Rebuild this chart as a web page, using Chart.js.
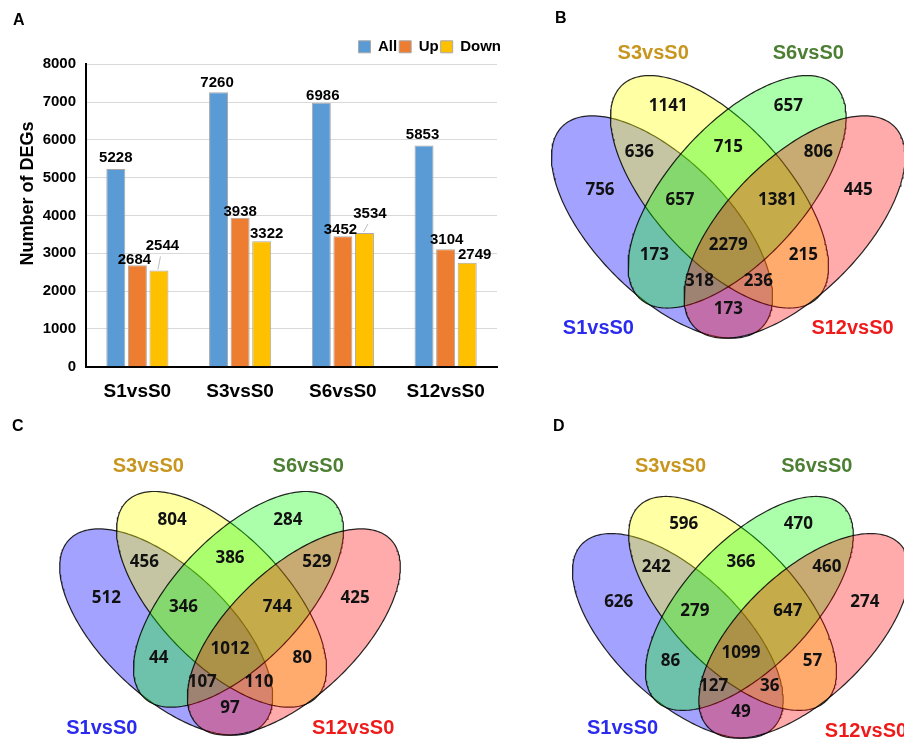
<!DOCTYPE html>
<html>
<head>
<meta charset="utf-8">
<script src="https://cdn.jsdelivr.net/npm/chart.js@4.4.0/dist/chart.umd.min.js"></script>
<style>
html,body{margin:0;padding:0;background:#fff;width:904px;height:740px;overflow:hidden;position:relative;}
.panel{position:absolute;}
.letter{position:absolute;font:bold 16px "Liberation Sans",Arial,sans-serif;line-height:16px;color:#000;}
canvas{display:block;}
</style>
</head>
<body>
<div class="panel" style="left:0;top:0;width:530px;height:410px"><canvas id="barChart" width="530" height="410"></canvas></div>
<div class="panel" style="left:540px;top:0;width:364px;height:410px"><canvas id="vennB" width="364" height="410"></canvas></div>
<div class="panel" style="left:0;top:410px;width:450px;height:330px"><canvas id="vennC" width="450" height="330"></canvas></div>
<div class="panel" style="left:450px;top:410px;width:454px;height:330px"><canvas id="vennD" width="454" height="330"></canvas></div>
<div class="letter" style="left:13px;top:12px">A</div>
<div class="letter" style="left:555px;top:10px">B</div>
<div class="letter" style="left:12px;top:418px">C</div>
<div class="letter" style="left:553px;top:418px">D</div>
<script>
// ---------------- DATA ----------------
// Panel A: bar chart
const categories = ['S1vsS0', 'S3vsS0', 'S6vsS0', 'S12vsS0'];
const seriesNames = ['All', 'Up', 'Down'];
const allDEGs  = [5228, 7260, 6986, 5853];
const upDEGs   = [2684, 3938, 3452, 3104];
const downDEGs = [2544, 3322, 3534, 2749];
const yTickMin = 0;
const yTickMax = 8000;
const yTickStep = 1000;
const yAxisTitle = 'Number of DEGs';

// Panels B, C, D: four-set Venn diagrams
const vennSets = ['S1vsS0', 'S3vsS0', 'S6vsS0', 'S12vsS0'];
const regionNames = ['S1', 'S3', 'S6', 'S12', 'S1&S3', 'S3&S6', 'S6&S12', 'S1&S6', 'S3&S12', 'S1&S12',
                     'S1&S3&S6', 'S3&S6&S12', 'S1&S6&S12', 'S1&S3&S12', 'S1&S3&S6&S12'];
const vennCountsB = [756, 1141, 657, 445, 636, 715, 806, 173, 215, 173, 657, 1381, 318, 236, 2279];
const vennCountsC = [512, 804, 284, 425, 456, 386, 529, 44, 80, 97, 346, 744, 107, 110, 1012];
const vennCountsD = [626, 596, 470, 274, 242, 366, 460, 86, 57, 49, 279, 647, 127, 36, 1099];

// ---------------- STYLE / LAYOUT ----------------
const FONT = '"Liberation Sans", Arial, sans-serif';
const NUM_FONT = '"Open Sans", "Noto Sans", sans-serif';
const barColors = ['#5b9bd5', '#ed7d31', '#ffc000'];
const barBorder = '#a9a9a9';
// label nudges in px [dx, dy] for each bar of each series
const labelShift = {
  All:  [[0, -1.6], [-1.5, -0.6], [1.5, 2], [-1.5, -1.6]],
  Up:   [[-3, 3.4], [0, 3.4], [-2.5, 2.4], [1, -0.6]],
  Down: [[3.5, -15.6], [5, 1.4], [5.5, -10.6], [7.5, 1.4]]
};
const leaderLines = { Down: [true, false, true, false] };
const legendShift = {dx: 6, dy: 0};

// Venn geometry in unit coordinates (4-ellipse layout)
const ellipseGeom = [ // [cx, cy, a, b, angleDeg]
  [0.3367, 0.4611, 0.3505, 0.1666, -45.7],
  [0.4783, 0.5487, 0.3577, 0.1666, -48.3],
  [0.5217, 0.5487, 0.3577, 0.1666, 48.3],
  [0.6633, 0.4611, 0.3505, 0.1666, 45.7]
];
const VENN_BOTTOM = 0.185;
const vennFills = ['rgba(0,0,255,0.36)', 'rgba(255,255,0,0.36)', 'rgba(0,255,0,0.33)', 'rgba(255,0,0,0.33)'];
const setLabelColors = ['#2b2bef', '#c8961e', '#4c7f32', '#ef1b1b'];
const regionPos = [
  [0.184, 0.552], [0.352, 0.762], [0.648, 0.762], [0.820, 0.552],
  [0.281, 0.648], [0.500, 0.660], [0.722, 0.648],
  [0.318, 0.392], [0.685, 0.392], [0.500, 0.256],
  [0.381, 0.527], [0.621, 0.527], [0.429, 0.326], [0.574, 0.326], [0.500, 0.415]
];
const setLabelPosB = [[0.180, 0.209], [0.315, 0.893], [0.697, 0.893], [0.806, 0.209]];
const setLabelPosC = [[0.172, 0.203], [0.291, 0.904], [0.700, 0.904], [0.815, 0.203]];
const setLabelPosD = [[0.194, 0.211], [0.318, 0.920], [0.696, 0.920], [0.823, 0.202]];
const frameB = {left: 540, top: 0,   width: 364, height: 410, cx: 728.3, kx: 406, bottom: 338, ky: 402};
const frameC = {left: 0,   top: 410, width: 450, height: 330, cx: 230,   kx: 391, bottom: 735, ky: 373};
const frameD = {left: 450, top: 410, width: 454, height: 330, cx: 741,   kx: 387, bottom: 738, ky: 370};

// ---------------- PANEL A ----------------
const barLabelPlugin = {
  id: 'barLabels',
  afterDatasetsDraw(chart) {
    const ctx = chart.ctx;
    ctx.save();
    ctx.font = 'bold 15px ' + FONT;
    ctx.textAlign = 'center';
    ctx.textBaseline = 'alphabetic';
    chart.data.datasets.forEach((ds, di) => {
      const meta = chart.getDatasetMeta(di);
      const shifts = labelShift[ds.label];
      const leaders = leaderLines[ds.label] || [];
      meta.data.forEach((bar, i) => {
        const lx = bar.x + shifts[i][0];
        const ly = bar.y - 5 + shifts[i][1];
        if (leaders[i]) {
          ctx.strokeStyle = '#bdbdbd';
          ctx.lineWidth = 1;
          ctx.beginPath();
          ctx.moveTo(bar.x - 1, bar.y - 1);
          ctx.lineTo(lx - 2, ly + 6.5);
          ctx.stroke();
        }
        ctx.fillStyle = '#000';
        ctx.fillText(String(ds.data[i]), lx, ly);
      });
    });
    ctx.restore();
  }
};
const yTitlePlugin = {
  id: 'yTitle',
  afterDraw(chart) {
    const ctx = chart.ctx;
    const ca = chart.chartArea;
    ctx.save();
    ctx.translate(28, (ca.top + ca.bottom) / 2 - 22);
    ctx.rotate(-Math.PI / 2);
    ctx.font = 'bold 18px ' + FONT;
    ctx.fillStyle = '#000';
    ctx.textAlign = 'center';
    ctx.textBaseline = 'middle';
    ctx.fillText(yAxisTitle, 0, 0);
    ctx.restore();
  }
};
const legendShiftPlugin = {
  id: 'legendShift',
  afterLayout(chart) {
    const lg = chart.legend;
    if (!lg) return;
    lg.left += legendShift.dx; lg.right += legendShift.dx;
    lg.top += legendShift.dy; lg.bottom += legendShift.dy;
  }
};

const seriesData = [allDEGs, upDEGs, downDEGs];
const barChart = new Chart(document.getElementById('barChart'), {
  type: 'bar',
  data: {
    labels: categories,
    datasets: seriesNames.map((name, k) => ({
      label: name,
      data: seriesData[k],
      backgroundColor: barColors[k],
      borderColor: barBorder,
      borderWidth: 1,
      categoryPercentage: 0.63,
      barPercentage: 0.88
    }))
  },
  options: {
    responsive: false,
    animation: false,
    events: [],
    layout: {padding: {left: 30, right: 33, top: 30, bottom: 0}},
    plugins: {
      legend: {
        position: 'top',
        align: 'end',
        labels: {
          boxWidth: 12, boxHeight: 12, padding: 2, color: '#000',
          font: {family: FONT, size: 15, weight: 'bold'}
        }
      },
      tooltip: {enabled: false}
    },
    scales: {
      x: {
        grid: {display: false, drawTicks: false},
        border: {display: true, color: '#000', width: 2},
        ticks: {color: '#000', padding: 14, font: {family: FONT, size: 19, weight: 'bold'}}
      },
      y: {
        min: yTickMin, max: yTickMax,
        grid: {color: '#d9d9d9', lineWidth: 1, drawTicks: false},
        border: {display: true, color: '#000', width: 2},
        ticks: {stepSize: yTickStep, color: '#000', padding: 10,
                font: {family: FONT, size: 15, weight: 'bold'},
                callback: v => String(v)},
        title: {display: false}
      }
    }
  },
  plugins: [barLabelPlugin, yTitlePlugin, legendShiftPlugin]
});
// fit chart area to target plot box
(function fitArea() {
  const target = {left: 86, right: 497, top: 64.3, bottom: 366.7};
  for (let it = 0; it < 3; it++) {
    const ca = barChart.chartArea;
    const p = barChart.options.layout.padding;
    p.left += target.left - ca.left;
    p.right += ca.right - target.right;
    p.top += target.top - ca.top;
    p.bottom += ca.bottom - target.bottom;
    barChart.update();
  }
})();

// ---------------- VENN PANELS ----------------
function ellipsePoints(g) {
  const [cx, cy, a, b, ang] = g;
  const th = ang * Math.PI / 180;
  const pts = [];
  const n = 240;
  for (let i = 0; i <= n; i++) {
    const t = 2 * Math.PI * i / n;
    pts.push({
      x: cx + a * Math.cos(t) * Math.cos(th) - b * Math.sin(t) * Math.sin(th),
      y: cy + a * Math.cos(t) * Math.sin(th) + b * Math.sin(t) * Math.cos(th)
    });
  }
  return pts;
}

const vennTextPlugin = {
  id: 'vennText',
  afterDatasetsDraw(chart) {
    const ctx = chart.ctx;
    ctx.save();
    ctx.textAlign = 'center';
    ctx.textBaseline = 'middle';
    chart.data.datasets.forEach((ds, di) => {
      if (!ds.texts) return;
      const meta = chart.getDatasetMeta(di);
      ctx.font = ds.textFont;
      meta.data.forEach((pt, i) => {
        ctx.fillStyle = Array.isArray(ds.textColor) ? ds.textColor[i] : ds.textColor;
        ctx.fillText(String(ds.texts[i]), pt.x, pt.y);
      });
    });
    ctx.restore();
  }
};

function buildVenn(id, counts, setPos, fr) {
  const xmin = 0.5 - (fr.cx - fr.left) / fr.kx;
  const xmax = xmin + fr.width / fr.kx;
  const ymax = VENN_BOTTOM + (fr.bottom - fr.top) / fr.ky;
  const ymin = ymax - fr.height / fr.ky;
  const datasets = [];
  datasets.push({
    label: 'counts',
    data: regionPos.map(p => ({x: p[0], y: p[1]})),
    texts: counts,
    textFont: 'bold 17px ' + NUM_FONT,
    textColor: '#111',
    showLine: false, pointRadius: 0, order: 0
  });
  datasets.push({
    label: 'sets',
    data: setPos.map(p => ({x: p[0], y: p[1]})),
    texts: vennSets,
    textFont: 'bold 20px ' + FONT,
    textColor: setLabelColors,
    showLine: false, pointRadius: 0, order: 0
  });
  ellipseGeom.forEach((g, k) => {
    datasets.push({
      label: vennSets[k],
      data: ellipsePoints(g),
      showLine: true,
      fill: 'shape',
      backgroundColor: vennFills[k],
      borderColor: 'rgba(0,0,0,0.85)',
      borderWidth: 1.2,
      pointRadius: 0,
      tension: 0,
      order: 4 - k
    });
  });
  return new Chart(document.getElementById(id), {
    type: 'scatter',
    data: {datasets},
    options: {
      responsive: false,
      animation: false,
      events: [],
      layout: {padding: 0},
      plugins: {legend: {display: false}, tooltip: {enabled: false}},
      scales: {
        x: {type: 'linear', min: xmin, max: xmax, display: false},
        y: {type: 'linear', min: ymin, max: ymax, display: false}
      }
    },
    plugins: [vennTextPlugin]
  });
}
buildVenn('vennB', vennCountsB, setLabelPosB, frameB);
buildVenn('vennC', vennCountsC, setLabelPosC, frameC);
buildVenn('vennD', vennCountsD, setLabelPosD, frameD);
</script>
</body>
</html>
